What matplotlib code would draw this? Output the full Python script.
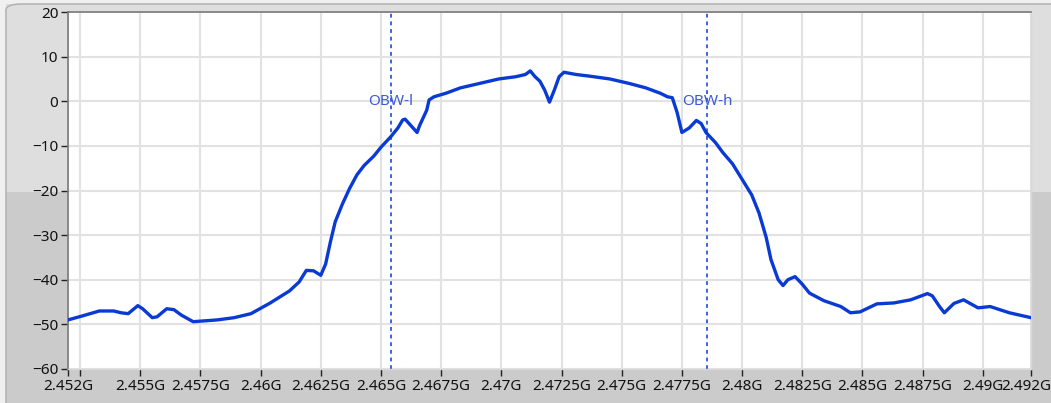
import matplotlib
matplotlib.use("Agg")
import matplotlib.pyplot as plt
import matplotlib.transforms as mtransforms
from matplotlib.patches import Rectangle, FancyBboxPatch
from matplotlib.ticker import FuncFormatter

plt.rcParams["font.family"] = ["Noto Sans", "DejaVu Sans"]

# spectrum trace (GHz, dB)
freq = [2.4520, 2.4526, 2.4533, 2.4539, 2.4542, 2.4545, 2.4549, 2.4551, 2.4555, 2.4557,
        2.4561, 2.4564, 2.4567, 2.4572, 2.4582, 2.4589, 2.4596, 2.4604, 2.4612, 2.4616,
        2.4619, 2.4622, 2.4625, 2.4627, 2.4629, 2.4631, 2.4634, 2.4637, 2.4640, 2.4643,
        2.4647, 2.4650, 2.4654, 2.4657, 2.4659, 2.4660, 2.4662, 2.4665, 2.4666, 2.4669,
        2.4670, 2.4672, 2.4677, 2.4683, 2.4691, 2.4699, 2.4706, 2.4710, 2.4712, 2.4714,
        2.4716, 2.4718, 2.4720, 2.4722, 2.4724, 2.4726, 2.4731, 2.4737, 2.4745, 2.4753,
        2.4760, 2.4766, 2.4769, 2.4771, 2.4773, 2.4775, 2.4778, 2.4781, 2.4783, 2.4785,
        2.4789, 2.4792, 2.4796, 2.4800, 2.4804, 2.4807, 2.4810, 2.4812, 2.4815, 2.4817,
        2.4819, 2.4822, 2.4825, 2.4828, 2.4834, 2.4841, 2.4845, 2.4849, 2.4856, 2.4863,
        2.4870, 2.4877, 2.4879, 2.4882, 2.4884, 2.4888, 2.4892, 2.4898, 2.4903, 2.4911,
        2.4920]
level = [-49.0, -48.1, -47.0, -47.0, -47.4, -47.6, -45.8, -46.5, -48.5, -48.3,
         -46.5, -46.7, -47.9, -49.4, -49.0, -48.5, -47.6, -45.2, -42.5, -40.5,
         -37.9, -38.0, -39.0, -36.5, -31.5, -27.0, -23.0, -19.5, -16.5, -14.4,
         -12.3, -10.3, -8.0, -6.0, -4.2, -4.0, -5.2, -7.0, -5.5, -2.0,
         0.3, 1.0, 1.8, 3.0, 4.0, 5.0, 5.5, 6.0, 6.8, 5.5,
         4.5, 2.5, -0.2, 2.5, 5.5, 6.5, 6.0, 5.6, 5.0, 4.0,
         3.0, 1.8, 1.0, 0.8, -2.5, -7.0, -6.0, -4.3, -5.0, -7.0,
         -9.3, -11.5, -14.0, -17.5, -21.0, -25.0, -30.5, -35.5, -40.0, -41.3,
         -40.0, -39.3, -41.0, -43.0, -44.7, -46.0, -47.4, -47.2, -45.4, -45.2,
         -44.5, -43.1, -43.6, -46.0, -47.4, -45.3, -44.5, -46.3, -46.0, -47.4,
         -48.5]

obw_freq = [2.46541, 2.47854]
obw_label = ["OBW-l", "OBW-h"]

xticks = [2.452, 2.4525, 2.455, 2.4575, 2.46, 2.4625, 2.465, 2.4675, 2.47, 2.4725,
          2.475, 2.4775, 2.48, 2.4825, 2.485, 2.4875, 2.49, 2.492]
yticks = [20, 10, 0, -10, -20, -30, -40, -50, -60]

BLUE = "#0a3ad4"
W, H = 1051, 403

fig = plt.figure(figsize=(W / 100, H / 100), dpi=100, facecolor="#f0f0f0")
# LabVIEW-ish panel: light upper half, darker lower half
fig.patches.append(Rectangle((6 / W, 0), 1, 1 - 4 / H, transform=fig.transFigure,
                             facecolor="#dedede", edgecolor="none", zorder=-3))
fig.patches.append(Rectangle((6 / W, 0), 1, 1 - 192 / H, transform=fig.transFigure,
                             facecolor="#cbcbcb", edgecolor="none", zorder=-2))
fig.patches.append(FancyBboxPatch((6 / W, -0.05), 1.2, 1 - 4 / H + 0.05,
                                  boxstyle="round,pad=0,rounding_size=0.015",
                                  transform=fig.transFigure, facecolor="none",
                                  edgecolor="#b4b4b4", lw=1.2, zorder=-1))

ax = fig.add_axes([68 / W, 1 - 369 / H, (1031 - 68) / W, (369 - 12) / H], zorder=5)
ax.set_facecolor("white")

ax.plot(freq, level, color=BLUE, lw=2.4, zorder=3)
for f, lab in zip(obw_freq, obw_label):
    ax.axvline(f, color=BLUE, lw=1.1, ls=(0, (2.5, 2.5)), zorder=2)
    ax.text(f, 0, lab, ha="center", va="center", fontsize=11, color="#3c5ad8", zorder=4)

ax.set_xlim(2.452, 2.492)
ax.set_ylim(-60, 20)
ax.set_xticks(xticks)
ax.xaxis.set_major_formatter(FuncFormatter(lambda v, p: "" if abs(v - 2.4525) < 1e-6 else f"{v:g}G"))
ax.set_yticks(yticks)
ax.grid(color="#e2e2e2", lw=1.5, zorder=0)
ax.tick_params(direction="out", length=5, width=1, color="#222", labelsize=11,
               labelcolor="#111", pad=2)
for s in ["top", "left"]:
    ax.spines[s].set_color("#7a7a7a")
    ax.spines[s].set_linewidth(1.2)
for s in ["bottom", "right"]:
    ax.spines[s].set_color("#d8d8d8")
    ax.spines[s].set_linewidth(1.0)

# last frequency label sits against the right edge, nudge it in a little
fig.canvas.draw()
last = ax.get_xticklabels()[-1]
last.set_transform(last.get_transform() + mtransforms.ScaledTranslation(-5 / 100, 0, fig.dpi_scale_trans))

fig.savefig("out.png", dpi=100, facecolor=fig.get_facecolor())
